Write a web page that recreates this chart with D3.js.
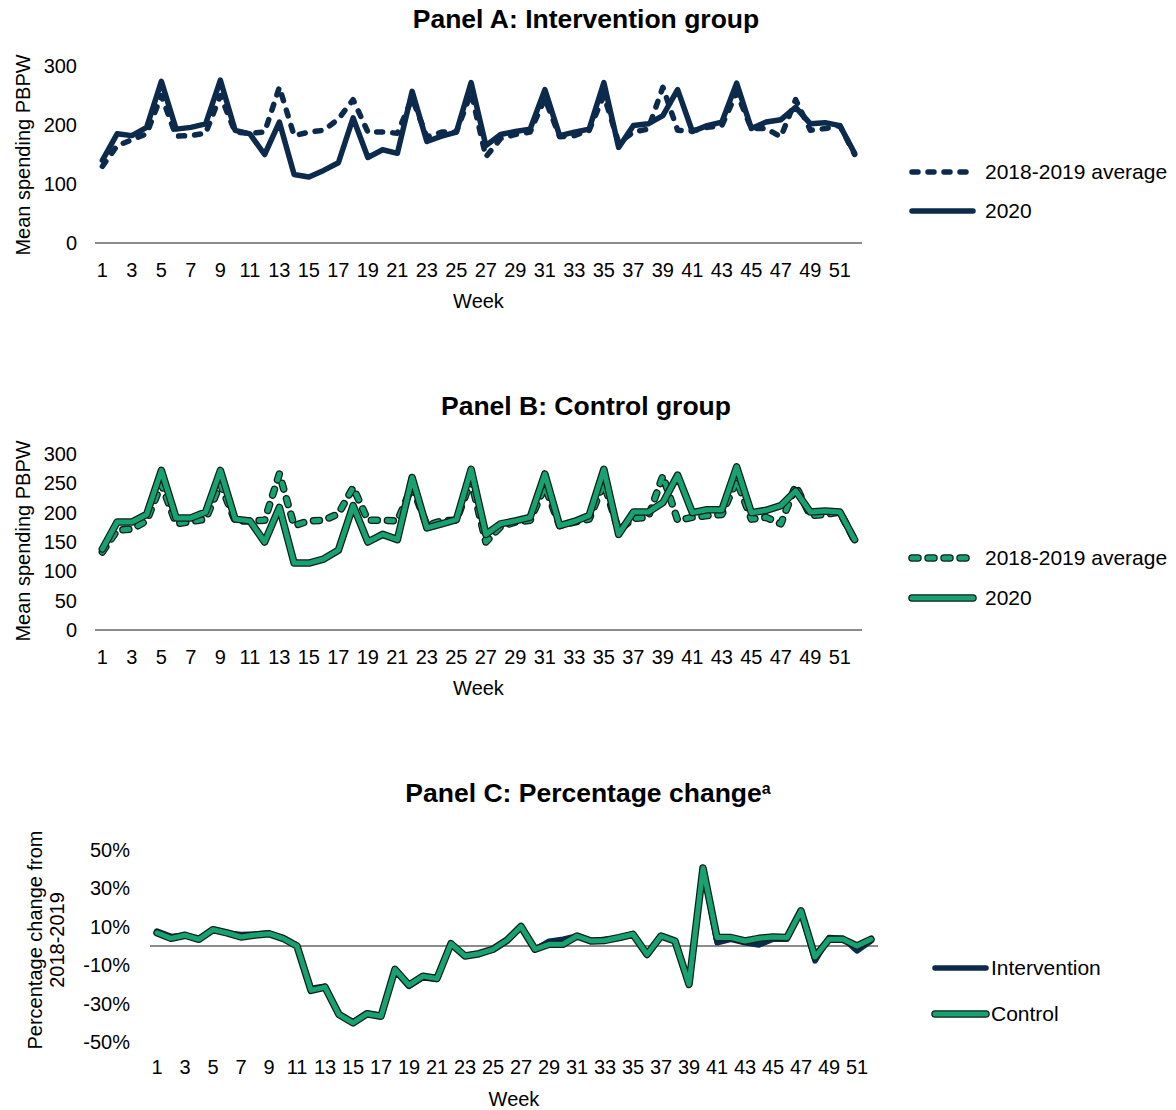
<!DOCTYPE html>
<html>
<head>
<meta charset="utf-8">
<script src="https://cdn.jsdelivr.net/npm/d3@7"></script>
<style>
  body { margin: 0; background: #fff; }
  svg text { font-family: "Liberation Sans", Arial, sans-serif; fill: #000; }
</style>
</head>
<body>
<svg id="chart" width="1176" height="1110"></svg>
<script>
// Week categories (1..52) and labelled ticks (odd weeks)
const weeks = [1,2,3,4,5,6,7,8,9,10,11,12,13,14,15,16,17,18,19,20,21,22,23,24,25,26,
               27,28,29,30,31,32,33,34,35,36,37,38,39,40,41,42,43,44,45,46,47,48,49,50,51,52];
const weekTicks = [1,3,5,7,9,11,13,15,17,19,21,23,25,27,29,31,33,35,37,39,41,43,45,47,49,51];

// Panel A: intervention group, mean spending per beneficiary per week
const interventionAvg = [130,165,175,185,250,181,182,186,250,188,186,188,264,182,188,191,210,243,188,188,186,245,180,188,188,255,
                         146,177,184,188,245,180,182,191,250,170,188,193,264,191,190,196,199,255,194,194,180,243,191,194,199,150];
const intervention2020 = [140,185,182,196,274,193,196,202,276,191,185,150,205,116,112,123,136,212,145,158,152,257,172,181,188,272,
                          165,184,189,193,260,182,188,193,272,162,199,202,216,260,189,199,205,271,194,205,209,230,202,204,199,152];

// Panel B: control group
const controlAvg = [133,170,172,186,249,181,185,189,249,186,186,187,266,178,186,187,198,243,187,187,186,245,178,186,187,255,
                    150,176,184,187,245,178,184,189,250,170,190,192,263,187,192,195,197,255,189,192,181,246,195,197,201,153];
const control2020 = [138,184,184,197,272,191,191,201,272,189,186,150,209,114,114,121,136,212,150,163,154,260,174,181,188,274,
                     163,181,186,192,266,178,185,195,274,163,201,201,217,264,200,205,205,278,200,204,212,237,201,203,201,154];

// Panel C: percentage change of 2020 against the 2018-2019 average (%)
const interventionPct = [7.8,5.0,5.6,4.0,8.5,6.8,6.0,6.2,6.8,4.0,0,-22.0,-21.0,-35.7,-39.5,-35.0,-36.0,-12.5,-21.0,-16.5,-17.5,1.0,-5.0,-4.0,-1.7,3.0,
                         10.0,-1.7,2.5,3.5,5.2,2.8,3.5,4.0,6.5,-4.4,5.0,2.6,-19.0,40.0,1.7,3.5,1.7,0.5,3.5,3.5,18.0,-7.8,4.4,4.0,-2.6,2.6];
const controlPct = [6.9,4.0,5.6,3.5,8.5,6.8,4.7,5.7,6.4,4.0,0,-23.1,-21.4,-35.7,-40.0,-35.3,-36.6,-12.2,-20.4,-15.7,-16.9,1.2,-5.2,-4.0,-1.7,3.0,
                    10.2,-1.7,0.9,0.9,5.2,2.6,2.9,4.4,6.1,-4.4,5.2,2.6,-20.0,40.6,4.4,4.4,2.6,4.0,4.7,4.4,18.3,-5.7,3.5,3.5,0,3.5];

const spendTicks = [0,100,200,300];
const spendTicksB = [0,50,100,150,200,250,300];
const pctTicks = [-50,-30,-10,10,30,50];

const NAVY = "#0c2a4b";
const GREEN = "#17a26f";
const OUTLINE = "#0b1f1c";
const AXIS_GREY = "#8c8c8c";
const DASH = "6,10";

const svg = d3.select("#chart");

function drawPanel(p) {
  const g = svg.append("g");
  const x = d3.scaleBand().domain(weeks).range([p.left, p.right]);
  const cx = w => x(w) + x.bandwidth() / 2;
  const y = d3.scaleLinear().domain(p.domain).range([p.bottom, p.top]);

  // Title
  const t = g.append("text")
    .attr("x", p.titleX).attr("y", p.titleY)
    .attr("text-anchor", "middle").attr("dy", "0.35em")
    .style("font-size", "26.5px").style("font-weight", "bold")
    .text(p.title);
  if (p.titleSup) {
    t.append("tspan").attr("baseline-shift", "super").style("font-size", "16px").text(p.titleSup);
  }

  // Y axis labels
  const ya = g.append("g").attr("transform", `translate(${p.left},0)`)
    .call(d3.axisLeft(y).tickValues(p.yTicks).tickSize(0).tickPadding(p.yPad).tickFormat(p.yFormat));
  ya.select(".domain").remove();
  ya.selectAll("text").style("font-size", "20px").style("font-family", "Liberation Sans, Arial, sans-serif").attr("fill", "#000");

  // Zero line
  g.append("line")
    .attr("x1", p.left).attr("x2", p.right)
    .attr("y1", y(0)).attr("y2", y(0))
    .attr("stroke", AXIS_GREY).attr("stroke-width", 2);

  // X axis labels
  const xa = g.append("g").attr("transform", `translate(0,${p.xAxisY})`)
    .call(d3.axisBottom(x).tickValues(weekTicks).tickSize(0).tickPadding(p.xPad));
  xa.select(".domain").remove();
  xa.selectAll("text").style("font-size", "20px").style("font-family", "Liberation Sans, Arial, sans-serif").attr("fill", "#000");

  // Axis titles
  g.append("text")
    .attr("x", (p.left + p.right) / 2).attr("y", p.weekY)
    .attr("text-anchor", "middle").attr("dy", "0.35em")
    .style("font-size", "20px").text("Week");
  p.yTitle.forEach((line, i) => {
    g.append("text")
      .attr("transform", `translate(${p.yTitleX[i]},${p.yTitleY}) rotate(-90)`)
      .attr("text-anchor", "middle").attr("dy", "0.35em")
      .style("font-size", "20px").text(line);
  });

  // Series
  const line = d3.line().x((d, i) => cx(weeks[i])).y(d => y(d));
  p.series.forEach(s => {
    if (s.outline) {
      g.append("path").datum(s.values).attr("d", line)
        .attr("fill", "none").attr("stroke", OUTLINE).attr("stroke-width", 7.5)
        .attr("stroke-linejoin", "round").attr("stroke-linecap", "round")
        .attr("stroke-dasharray", s.dashed ? "6,10" : null);
    }
    g.append("path").datum(s.values).attr("d", line)
      .attr("fill", "none").attr("stroke", s.color).attr("stroke-width", s.outline ? 5 : 5.5)
      .attr("stroke-linejoin", "round").attr("stroke-linecap", "round")
      .attr("stroke-dasharray", s.dashed ? DASH : null);
  });

  // Legend
  p.series.slice().sort((a, b) => a.legendOrder - b.legendOrder).forEach((s, i) => {
    const ly = p.legendY[i];
    if (s.outline) {
      g.append("line").attr("x1", p.legendX1).attr("x2", p.legendX2).attr("y1", ly).attr("y2", ly)
        .attr("stroke", OUTLINE).attr("stroke-width", 7.5).attr("stroke-linecap", "round")
        .attr("stroke-dasharray", s.dashed ? DASH : null);
    }
    g.append("line").attr("x1", p.legendX1).attr("x2", p.legendX2).attr("y1", ly).attr("y2", ly)
      .attr("stroke", s.color).attr("stroke-width", s.outline ? 5 : 5.5).attr("stroke-linecap", "round")
      .attr("stroke-dasharray", s.dashed ? DASH : null);
    g.append("text").attr("x", p.legendTextX).attr("y", ly).attr("dy", "0.35em")
      .style("font-size", "21px").text(s.name);
  });
}

drawPanel({
  title: "Panel A: Intervention group", titleX: 586, titleY: 19,
  left: 95, right: 862, top: 66, bottom: 243, domain: [0, 300],
  yTicks: spendTicks, yPad: 18, yFormat: d3.format("d"),
  xAxisY: 243, xPad: 20, weekY: 301,
  yTitle: ["Mean spending PBPW"], yTitleX: [23], yTitleY: 155,
  series: [
    { name: "2018-2019 average", values: interventionAvg, color: NAVY, dashed: true, legendOrder: 0 },
    { name: "2020", values: intervention2020, color: NAVY, dashed: false, legendOrder: 1 }
  ],
  legendX1: 912, legendX2: 973, legendTextX: 985, legendY: [172, 211]
});

drawPanel({
  title: "Panel B: Control group", titleX: 586, titleY: 406,
  left: 95, right: 862, top: 454, bottom: 630, domain: [0, 300],
  yTicks: spendTicksB, yPad: 18, yFormat: d3.format("d"),
  xAxisY: 630, xPad: 20, weekY: 688,
  yTitle: ["Mean spending PBPW"], yTitleX: [23], yTitleY: 541,
  series: [
    { name: "2018-2019 average", values: controlAvg, color: GREEN, dashed: true, outline: true, legendOrder: 0 },
    { name: "2020", values: control2020, color: GREEN, dashed: false, outline: true, legendOrder: 1 }
  ],
  legendX1: 912, legendX2: 973, legendTextX: 985, legendY: [558, 598]
});

drawPanel({
  title: "Panel C: Percentage change", titleSup: "a", titleX: 588, titleY: 793,
  left: 150, right: 878, top: 850, bottom: 1042, domain: [-50, 50],
  yTicks: pctTicks, yPad: 20, yFormat: d => d + "%",
  xAxisY: 1042, xPad: 18, weekY: 1099,
  yTitle: ["Percentage change from", "2018-2019"], yTitleX: [35, 57], yTitleY: 940,
  series: [
    { name: "Intervention", values: interventionPct, color: NAVY, dashed: false, legendOrder: 0 },
    { name: "Control", values: controlPct, color: GREEN, dashed: false, outline: true, legendOrder: 1 }
  ],
  legendX1: 935, legendX2: 986, legendTextX: 991, legendY: [968, 1014]
});
</script>
</body>
</html>
